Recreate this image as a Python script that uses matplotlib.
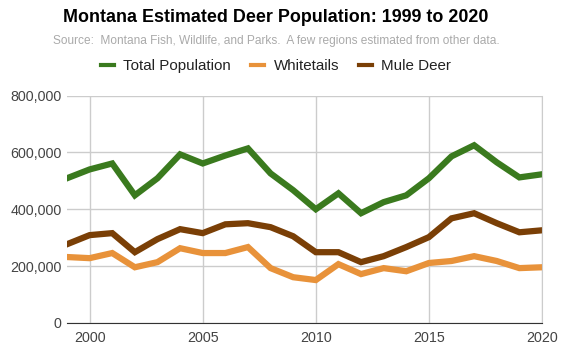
import matplotlib
matplotlib.use("Agg")
import matplotlib.pyplot as plt
from matplotlib.ticker import FuncFormatter, MultipleLocator

plt.rcParams['font.family'] = ['Liberation Sans', 'DejaVu Sans']

years = list(range(1999, 2021))
total = [509, 540, 561, 449, 509, 593, 561, 589, 614, 526, 467,
         400, 456, 386, 425, 449, 509, 586, 625, 565, 512, 523]
whitetails = [232, 228, 246, 196, 214, 263, 246, 246, 267, 193, 161,
              151, 207, 172, 193, 182, 211, 218, 235, 218, 193, 196]
mule = [277, 309, 316, 249, 295, 330, 316, 347, 351, 337, 305,
        249, 249, 214, 235, 267, 302, 368, 386, 351, 319, 326]
total = [v * 1000 for v in total]
whitetails = [v * 1000 for v in whitetails]
mule = [v * 1000 for v in mule]

series_names = ["Total Population", "Whitetails", "Mule Deer"]
colors = ["#3a7a1e", "#e8923a", "#7a3f06"]

fig = plt.figure(figsize=(5.69, 3.64), dpi=100)
ax = fig.add_axes([67/569, 41/364, 475/569, 227.5/364])

for vals, name, c in zip([total, whitetails, mule], series_names, colors):
    ax.plot(years, vals, color=c, lw=4.5, label=name, solid_joinstyle='miter')

ax.set_xlim(1999, 2020)
ax.set_ylim(0, 800000)
ax.xaxis.set_major_locator(MultipleLocator(5))
ax.yaxis.set_major_locator(MultipleLocator(200000))
ax.yaxis.set_major_formatter(FuncFormatter(lambda v, p: f"{int(v):,}"))
ax.grid(True, color="#cccccc", lw=1)
ax.set_axisbelow(True)
for s in ["top", "left"]:
    ax.spines[s].set_visible(False)
ax.spines["right"].set_color("#cccccc")
ax.spines["bottom"].set_color("#333333")
ax.tick_params(length=0, labelsize=10.3, colors="#444444", pad=6)
ax.tick_params(axis='y', pad=4)

fig.text(0.485, 1 - 18/364, "Montana Estimated Deer Population: 1999 to 2020",
         ha="center", va="center", fontsize=12.9, fontweight="bold", color="#000000")
fig.text(0.485, 1 - 41/364,
         "Source:  Montana Fish, Wildlife, and Parks.  A few regions estimated from other data.",
         ha="center", va="center", fontsize=8.6, color="#aaaaaa")

leg = fig.legend(loc="center", bbox_to_anchor=(0.485, 1 - 66/364), ncol=3, frameon=False,
                 fontsize=10.9, handlelength=0.9, handletextpad=0.6, columnspacing=1.3)
for h in leg.get_lines():
    h.set_linewidth(3)
for t in leg.get_texts():
    t.set_color("#222222")

fig.savefig("out.png", dpi=100)
